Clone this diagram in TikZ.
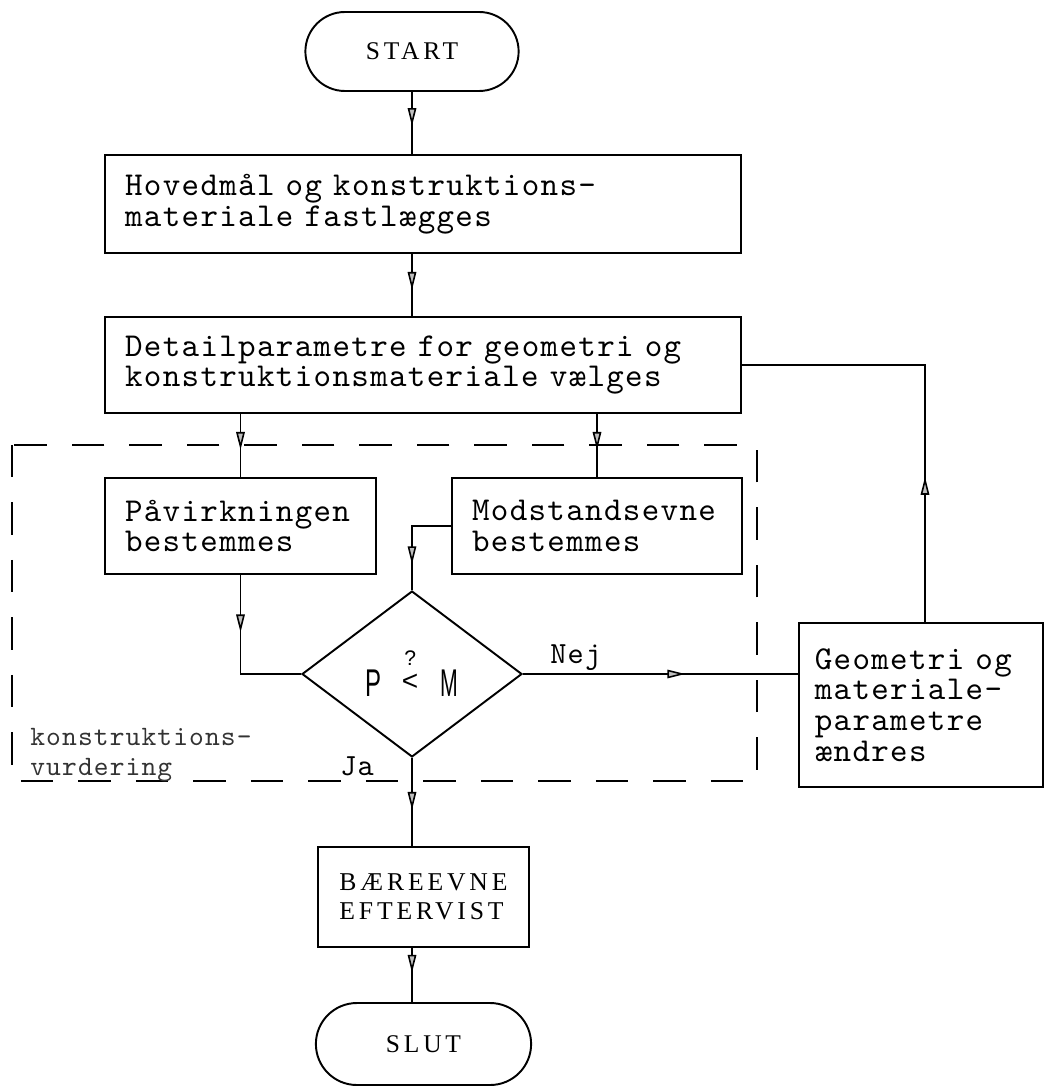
\documentclass[tikz,border=0pt]{standalone}
\usepackage{fontspec}
\usepackage{graphicx}
\usetikzlibrary{shapes.misc,shapes.geometric,arrows.meta,decorations.markings}
\newfontfamily\boxfont{lmmono10-regular.otf}[LetterSpace=4]
\newfontfamily\capfont{Liberation Serif}[LetterSpace=15]
\newfontfamily\diafont{Liberation Sans}
\begin{document}
\begin{tikzpicture}[x=0.02cm,y=-0.02cm,
  proc/.style={draw,line width=1.1pt,font=\boxfont\fontsize{19}{17.5}\selectfont,align=left,inner xsep=0.4cm,inner ysep=0pt},
  term/.style={draw,line width=1.1pt,rounded rectangle,font=\capfont\fontsize{14.5}{16}\selectfont},
  decision/.style={draw,line width=1.1pt,diamond,inner sep=0pt,minimum width=4.4cm,minimum height=3.32cm,font=\diafont\fontsize{22}{22}\selectfont},
  flow/.style={line width=.9pt},
  midarrow/.style={postaction={decorate},decoration={markings,mark=at position #1 with {\arrow{Triangle[length=0.36cm,width=0.17cm,fill=gray!50]}}}}]
\useasboundingbox (0,0) rectangle (1047,1087);
% boxes of the flow chart
\node[term,minimum width=4.5cm,minimum height=1.58cm] (start) at (412,51.5) {START};
\node[proc,text width=11.92cm,minimum height=1.96cm] (bmain) at (423,204) {Hovedmål og konstruktions-\\materiale fastlægges};
\node[proc,text width=11.92cm,minimum height=1.92cm] (bdetail) at (423,365) {Detailparametre for geometri og\\konstruktionsmateriale vælges};
\node[proc,text width=4.62cm,minimum height=1.92cm] (bpaav) at (240.5,526) {Påvirkningen\\bestemmes};
\node[proc,text width=5cm,minimum height=1.92cm] (bmod) at (597,526) {Modstandsevne\\bestemmes};
\node[decision] (check) at (412,674) {\scalebox{0.62}[1]{P}\hspace{0.4cm}\raisebox{0.12cm}{\shortstack{{\fontsize{12}{12}\selectfont ?}\\[2pt]{\fontsize{16}{16}\selectfont <}}}\hspace{0.44cm}\scalebox{0.55}[1]{M}};
\node[proc,text width=4.25cm,inner xsep=0.315cm,minimum height=3.28cm] (bgeo) at (921,705) {Geometri og\\materiale-\\parametre\\ændres};
\node[draw,line width=1.1pt,font=\capfont\fontsize{14.6}{16.5}\selectfont,align=left,minimum width=4.22cm,minimum height=2cm] (bbaere) at (423.5,897) {BÆREEVNE\\EFTERVIST};
\node[term,minimum width=4.54cm,minimum height=1.64cm] (slut) at (423.5,1044) {SLUT};
% dashed frame and its labels
\draw[line width=1pt,dash pattern=on 0.65cm off 0.5cm] (12,445) rectangle (757,781);
\node[font=\boxfont\fontsize{16}{17}\selectfont,align=left,anchor=north west,inner sep=0pt,text=black!80] (vurd) at (30,728) {konstruktions-\\vurdering};
\node[font=\boxfont\fontsize{17.5}{17}\selectfont,anchor=base west,inner sep=0pt] (ja) at (340,775) {Ja};
\node[font=\boxfont\fontsize{17.5}{17}\selectfont,anchor=base west,inner sep=0pt] (nej) at (550,663) {Nej};
% connectors
\draw[flow,midarrow=0.55] (start.south) -- (bmain.north -| start);
\draw[flow,midarrow=0.58] (bmain.south -| start) -- (bdetail.north -| start);
\draw[flow,midarrow=0.57] (bdetail.south -| bpaav) -- (bpaav.north);
\draw[flow,midarrow=0.57] (bdetail.south -| bmod) -- (bmod.north);
\draw[flow,midarrow=0.36] (bpaav.south) |- (check.west);
\draw[flow,midarrow=0.75] (bmod.west) -| (check.north);
\draw[flow,midarrow=0.59] (check.east) -- (check.east -| bgeo.west);
\draw[flow,midarrow=0.59] (check.south) -- (check.south |- bbaere.north);
\draw[flow,midarrow=0.46] (bbaere.south -| check) -- (slut.north -| check);
\coordinate (back) at (925,365);
\draw[flow,midarrow=0.33] (bgeo.north -| back) -- (back) -- (bdetail.east);
\end{tikzpicture}
\end{document}
